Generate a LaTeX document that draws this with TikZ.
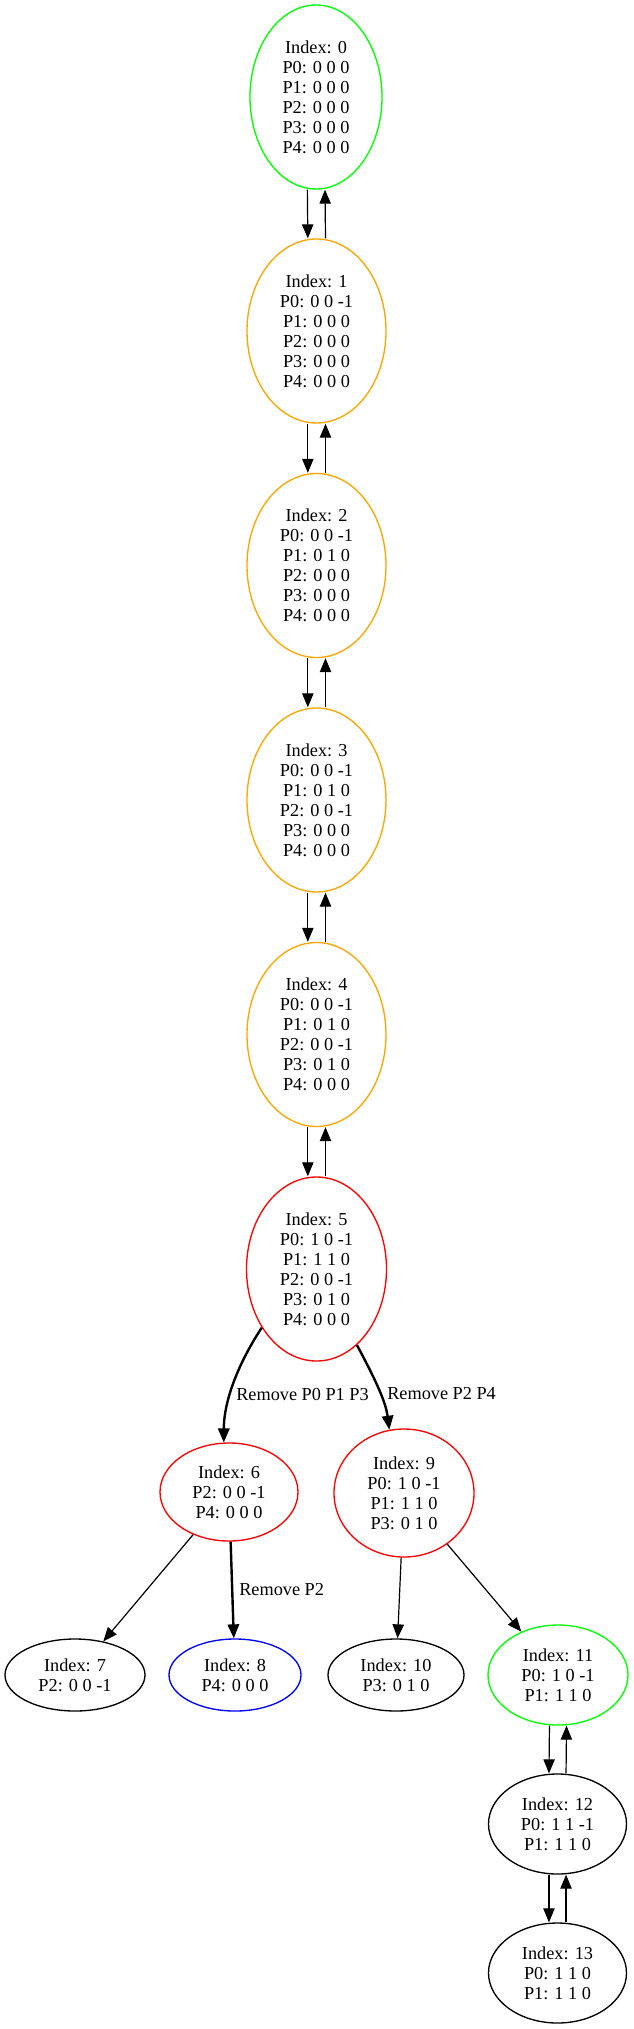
\documentclass[tikz,border=0pt]{standalone}
\usepackage{fontspec}
\setmainfont{Liberation Serif}
\usetikzlibrary{shapes.geometric,arrows.meta}
\definecolor{gvgreen}{RGB}{0,255,0}
\definecolor{gvorange}{RGB}{255,165,0}
\definecolor{gvred}{RGB}{255,0,0}
\definecolor{gvblue}{RGB}{0,0,255}
\tikzset{
  ell/.style 2 args={ellipse, draw, line width=1pt, inner sep=0pt,
    minimum width=#1*1.5pt, minimum height=#2*1.5pt,
    align=center, font=\fontsize{13.7}{15}\selectfont},
  edge/.style={line width=0.9pt, -{Triangle[length=10.5pt,width=8.5pt]}},
  boldedge/.style={line width=1.8pt, -{Triangle[length=10.5pt,width=8.5pt]}},
  lbl/.style={anchor=west, inner sep=0pt, font=\fontsize{13.7}{15}\selectfont}
}
\begin{document}
\begin{tikzpicture}[x=0.75pt,y=-0.75pt]
\useasboundingbox (0,0) rectangle (633,2029);
\node[ell={66}{92}, gvgreen, text=black] (n0) at (316,97) {Index: 0\\P0: 0 0 0\\P1: 0 0 0\\P2: 0 0 0\\P3: 0 0 0\\P4: 0 0 0};
\node[ell={69.5}{92}, gvorange, text=black] (n1) at (316.5,331) {Index: 1\\P0: 0 0 -1\\P1: 0 0 0\\P2: 0 0 0\\P3: 0 0 0\\P4: 0 0 0};
\node[ell={69.5}{92}, gvorange, text=black] (n2) at (316.5,565.5) {Index: 2\\P0: 0 0 -1\\P1: 0 1 0\\P2: 0 0 0\\P3: 0 0 0\\P4: 0 0 0};
\node[ell={69.5}{92}, gvorange, text=black] (n3) at (316.5,800) {Index: 3\\P0: 0 0 -1\\P1: 0 1 0\\P2: 0 0 -1\\P3: 0 0 0\\P4: 0 0 0};
\node[ell={69.5}{92}, gvorange, text=black] (n4) at (316.5,1034.5) {Index: 4\\P0: 0 0 -1\\P1: 0 1 0\\P2: 0 0 -1\\P3: 0 1 0\\P4: 0 0 0};
\node[ell={70}{92}, gvred, text=black] (n5) at (316.5,1269) {Index: 5\\P0: 1 0 -1\\P1: 1 1 0\\P2: 0 0 -1\\P3: 0 1 0\\P4: 0 0 0};
\node[ell={69}{49}, gvred, text=black] (n6) at (229,1492) {Index: 6\\P2: 0 0 -1\\P4: 0 0 0};
\node[ell={70}{64}, gvred, text=black] (n9) at (404,1493) {Index: 9\\P0: 1 0 -1\\P1: 1 1 0\\P3: 0 1 0};
\node[ell={70}{36}, black] (n7) at (75,1675) {Index: 7\\P2: 0 0 -1};
\node[ell={66}{36}, gvblue, text=black] (n8) at (235,1675) {Index: 8\\P4: 0 0 0};
\node[ell={68}{36}, black] (n10) at (396,1675) {Index: 10\\P3: 0 1 0};
\node[ell={70}{50}, gvgreen, text=black] (n11) at (558,1675) {Index: 11\\P0: 1 0 -1\\P1: 1 1 0};
\node[ell={69}{50}, black] (n12) at (557.5,1824) {Index: 12\\P0: 1 1 -1\\P1: 1 1 0};
\node[ell={69}{50}, black] (n13) at (557.5,1973) {Index: 13\\P0: 1 1 0\\P1: 1 1 0};
% chain pairs
\foreach \a/\b in {n0/n1,n1/n2,n2/n3,n3/n4,n4/n5}{
  \draw[edge] ([xshift=-6.5pt]\a.south) -- ([xshift=-6.5pt]\b.north);
  \draw[edge] ([xshift=6.75pt]\b.north) -- ([xshift=6.75pt]\a.south);
}
\foreach \a/\b in {n11/n12,n12/n13}{
  \draw[edge] ([xshift=-6.4pt]\a.south) -- ([xshift=-6.4pt]\b.north);
  \draw[edge] ([xshift=6.4pt]\b.north) -- ([xshift=6.4pt]\a.south);
}
% branches
\draw[boldedge] (n5.227) .. controls +(-20,30) and +(0,-45) .. (n6.96);
\draw[boldedge] (n5.298.7) .. controls +(16,30) and +(-4,-30) .. (n9.103);
\node[lbl] (l1) at (236,1394) {Remove P0 P1 P3};
\node[lbl] (l2) at (387,1394) {Remove P2 P4};
\draw[edge] (n6) -- (n7);
\draw[boldedge] (n6) -- (n8);
\node[lbl] (l3) at (239,1590) {Remove P2};
\draw[edge] (n9) -- (n10);
\draw[edge] (n9) -- (n11);
\end{tikzpicture}
\end{document}
